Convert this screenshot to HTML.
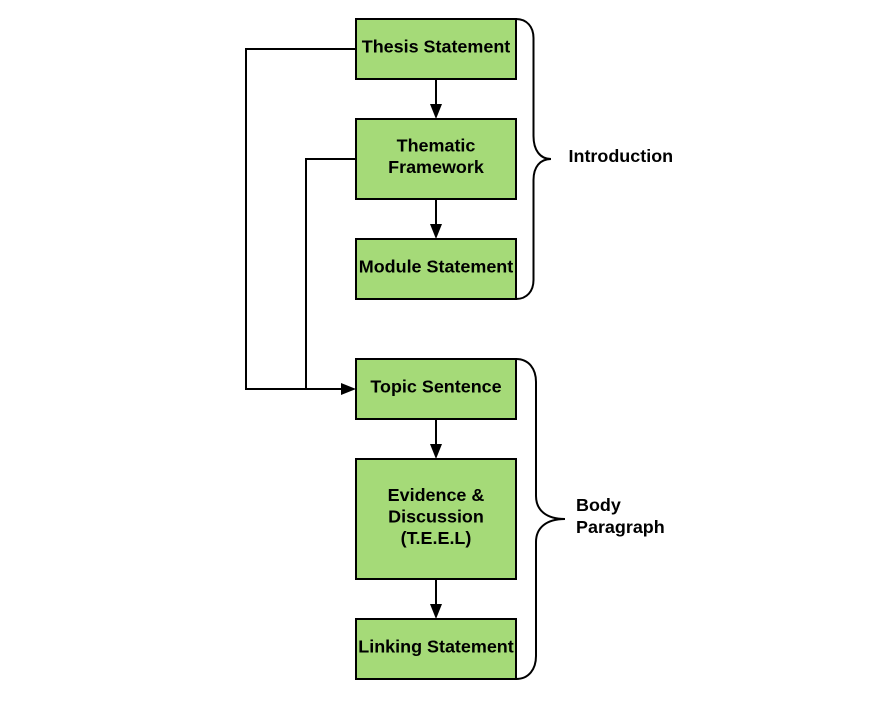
<!DOCTYPE html>
<html>
<head>
<meta charset="utf-8">
<style>
html,body{margin:0;padding:0;background:#fff}
svg{display:block}
text{font-family:"Liberation Sans",sans-serif;font-weight:bold;font-size:17.95px;fill:#000}
.c{text-anchor:middle}
.b{fill:#a5da78;stroke:#000;stroke-width:2}
.l{fill:none;stroke:#000;stroke-width:2}
</style>
</head>
<body>
<svg width="870" height="712" viewBox="0 0 870 712" xmlns="http://www.w3.org/2000/svg">
<rect width="870" height="712" fill="#fff"/>
<path class="l" d="M356 49H246V389H342"/>
<path class="l" d="M356 159H306V389"/>
<path class="l" d="M436 79V106M436 199V226M436 419V446M436 579V606"/>
<g fill="#000">
<path d="M436 119L430 104H442Z"/>
<path d="M436 239L430 224H442Z"/>
<path d="M436 459L430 444H442Z"/>
<path d="M436 619L430 604H442Z"/>
<path d="M356 389L341 383V395Z"/>
</g>
<rect class="b" x="356" y="19" width="160" height="60"/>
<rect class="b" x="356" y="119" width="160" height="80"/>
<rect class="b" x="356" y="239" width="160" height="60"/>
<rect class="b" x="356" y="359" width="160" height="60"/>
<rect class="b" x="356" y="459" width="160" height="120"/>
<rect class="b" x="356" y="619" width="160" height="60"/>
<path class="l" d="M516 19C527 19 533.500 27 533.500 38V136C533.500 150 540 159 551 159C540 159 533.500 167 533.500 180V280C533.500 291 527 299 516 299"/>
<path class="l" d="M516 359C529 359 536 369 536 382V496C536 510 546 519 565 519C546 519 536 528 536 542V656C536 669 529 679 516 679"/>
<text class="c" x="436" y="52.500">Thesis Statement</text>
<text class="c" x="436" y="151.500">Thematic</text>
<text class="c" x="436" y="173">Framework</text>
<text class="c" x="436" y="272.500">Module Statement</text>
<text class="c" x="436" y="392.500">Topic Sentence</text>
<text class="c" x="436" y="501">Evidence &amp;</text>
<text class="c" x="436" y="522.500">Discussion</text>
<text class="c" x="436" y="544">(T.E.E.L)</text>
<text class="c" x="436" y="652.500">Linking Statement</text>
<text x="568.500" y="162">Introduction</text>
<text x="576" y="511">Body</text>
<text x="576" y="533">Paragraph</text>
</svg>
</body>
</html>
